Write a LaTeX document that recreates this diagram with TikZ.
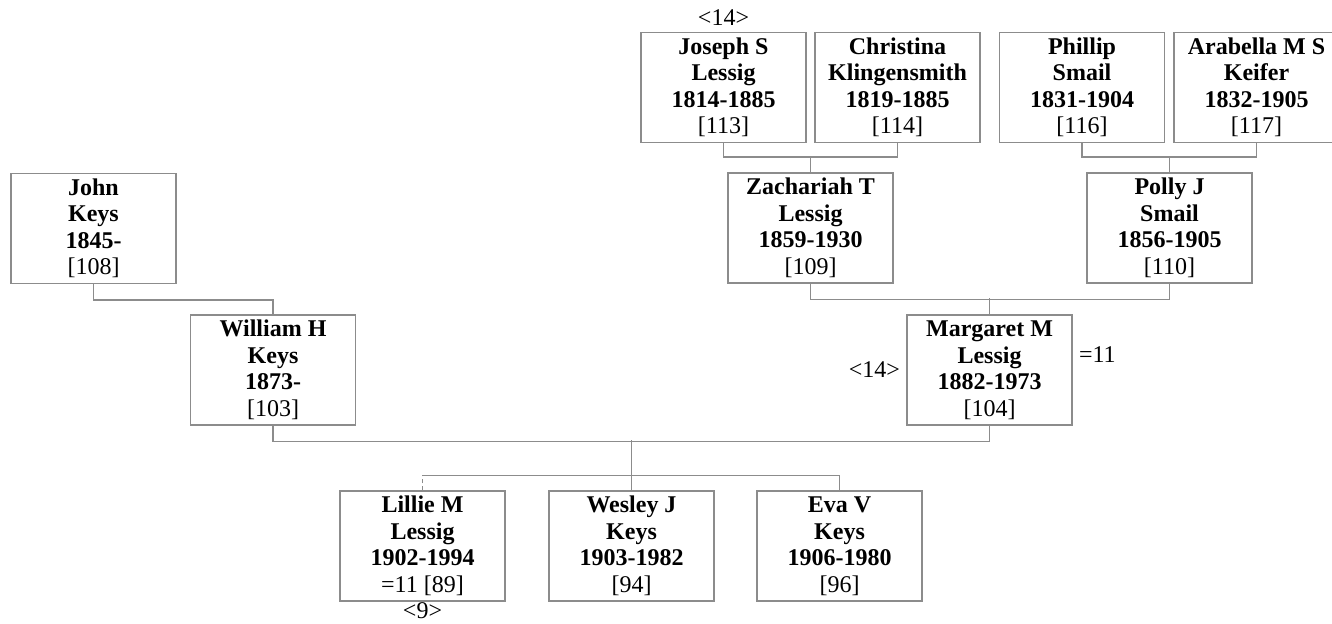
\documentclass[tikz,border=0pt]{standalone}
\usepackage{fontspec}
\setmainfont{Liberation Serif}
\usetikzlibrary{positioning}
\definecolor{treegray}{HTML}{8C8C8C}

\begin{document}
\begin{tikzpicture}[x=0.5pt,y=-0.5pt,
    person/.style={draw=treegray,line width=0.6pt,minimum width=82.5pt,minimum height=55pt,
      inner sep=0pt,align=center,font=\fontsize{12}{13.25}\selectfont\bfseries},
    tag/.style={inner sep=0pt,font=\fontsize{12}{13.25}\selectfont},
    link/.style={draw=treegray,line width=0.6pt}]
                    \clip (0,0) rectangle (1332,624);

                    \node[person] (joseph) at (723.5,87.5) {Joseph S\\Lessig\\1814-1885\\\mdseries [113]};
                    \node[person] (christina) at (897.5,87.5) {Christina\\Klingensmith\\1819-1885\\\mdseries [114]};
                    \node[person] (phillip) at (1082,87.5) {Phillip\\Smail\\1831-1904\\\mdseries [116]};
                    \node[person] (arabella) at (1256.5,87.5) {Arabella M S\\Keifer\\1832-1905\\\mdseries [117]};

                    \node[person] (zachariah) at (810.5,228) {Zachariah T\\Lessig\\1859-1930\\\mdseries [109]};
                    \node[person] (polly) at (1169.5,228) {Polly J\\Smail\\1856-1905\\\mdseries [110]};
                    \node[person] (john) at (93.5,228.5) {John\\Keys\\1845-\\\mdseries [108]};

                    \node[person] (william) at (273,370) {William H\\Keys\\1873-\\\mdseries [103]};
                    \node[person] (margaret) at (989.5,370) {Margaret M\\Lessig\\1882-1973\\\mdseries [104]};

                    \node[person] (lillie) at (422.5,546) {Lillie M\\Lessig\\1902-1994\\\mdseries =11 [89]};
                    \node[person] (wesley) at (631.5,546) {Wesley J\\Keys\\1903-1982\\\mdseries [94]};
                    \node[person] (eva) at (839.5,546) {Eva V\\Keys\\1906-1980\\\mdseries [96]};

                    \node[tag,above=3pt of joseph] (josephref) {<14>};
                    \node[tag,left=3pt of margaret] (margaretref) {<14>};
                    \node[tag,right=3pt of margaret,yshift=7.5pt] (margaretsame) {=11};
                    \node[tag,below=0.5pt of lillie] (lillieref) {<9>};

                    \draw[link] (joseph.south) -- ++(0,14) -| (christina.south);
                    \draw[link] (zachariah.north) -- ++(0,-16);
                    \draw[link] (phillip.south) -- ++(0,14) -| (arabella.south);
                    \draw[link] (polly.north) -- ++(0,-16);

                    \draw[link] (john.south) -- ++(0,16) -| (william.north);
                    \draw[link] (zachariah.south) -- ++(0,16) -| (polly.south);
                    \draw[link] (margaret.north) -- ++(0,-16);

                    \draw[link] (william.south) -- ++(0,16) -| (margaret.south);
                    \draw[link] (wesley.north) -- ++(0,-50);
                    \draw[link,dash pattern=on 2pt off 1.5pt] (lillie.north) -- ++(0,-15);
                    \draw[link] (lillie.north) ++(0,-15) -| (eva.north);
\end{tikzpicture}
\end{document}
